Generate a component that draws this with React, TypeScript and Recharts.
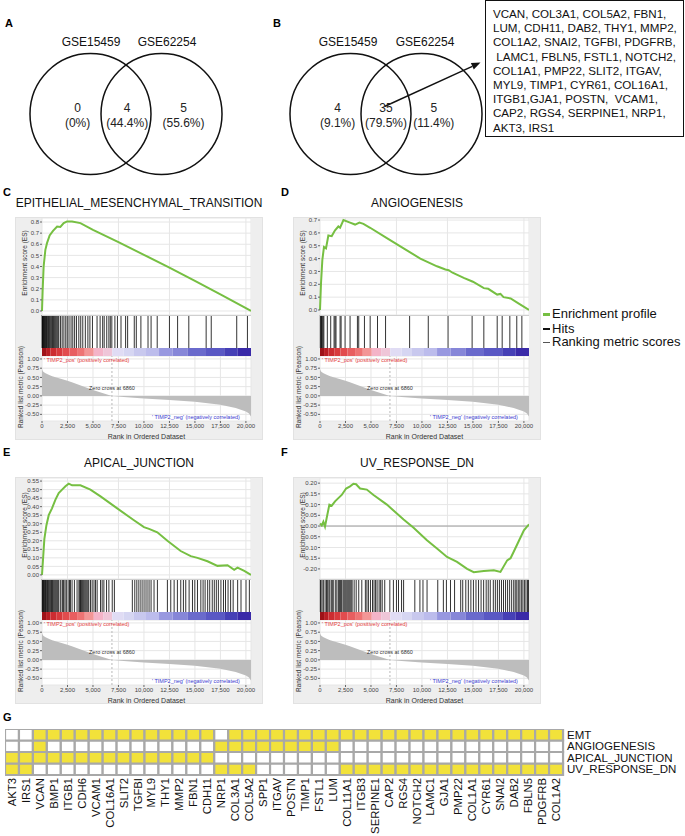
import React from "react";
import {
  LineChart,
  Line,
  AreaChart,
  Area,
  ComposedChart,
  BarChart,
  Bar,
  Cell,
  ScatterChart,
  Scatter,
  XAxis,
  YAxis,
  CartesianGrid,
  ReferenceLine,
  ReferenceArea,
  ReferenceDot,
} from "recharts";

const FONT = "'Liberation Sans', Arial, sans-serif";

// ---- Venn diagrams (A, B) ----
const vennCircleX = [-0.587, 0.587];
const vennSetNames = ["GSE15459", "GSE62254"];
const vennARegionX = [-0.8, 0.02, 0.95];
const vennACounts = [0, 4, 5];
const vennAPct = ["0%", "44.4%", "55.6%"];
const vennBRegionX = [-0.8, 0, 0.79];
const vennBCounts = [4, 35, 5];
const vennBPct = ["9.1%", "79.5%", "11.4%"];
const overlapGenes = [
  "VCAN, COL3A1, COL5A2, FBN1,",
  "LUM, CDH11, DAB2, THY1, MMP2,",
  "COL1A2, SNAI2, TGFBI, PDGFRB,",
  " LAMC1, FBLN5, FSTL1, NOTCH2,",
  "COL1A1, PMP22, SLIT2, ITGAV,",
  "MYL9, TIMP1, CYR61, COL16A1,",
  "ITGB1,GJA1, POSTN,  VCAM1,",
  "CAP2, RGS4, SERPINE1, NRP1,",
  "AKT3, IRS1",
];

// ---- GSEA panels (C-F) ----
const N_RANK = 20500;
const ZERO_CROSS = 6860;
const rankTicks = [0, 2500, 5000, 7500, 10000, 12500, 15000, 17500, 20000];
const metricTicks = [-0.5, -0.25, 0, 0.25, 0.5, 0.75, 1];

const metricRank = [0, 100, 300, 600, 1000, 1500, 2000, 2500, 3000, 4000, 5000, 6000, 6860, 8000, 10000, 12500, 15000, 17500, 19000, 20000, 20300, 20500];
const metricValue = [0.72, 0.66, 0.62, 0.58, 0.53, 0.49, 0.45, 0.41, 0.36, 0.26, 0.16, 0.07, 0, -0.03, -0.07, -0.11, -0.16, -0.24, -0.33, -0.42, -0.48, -0.56];

const colorBarEdges = [0, 400, 820, 1400, 2000, 2700, 3440, 4200, 5080, 6000, 6890, 8000, 9020, 10200, 11480, 12800, 14260, 16000, 17870, 19200, 20500];
const colorBarColors = ["#9e1218", "#b81e24", "#cc2c31", "#d83a3d", "#e24c4e", "#e85e60", "#ee7474", "#f39696", "#f4b4c8", "#efc6d8", "#e0dcf4", "#d6d6f2", "#c8c8ee", "#bcbcec", "#9898e0", "#8686d8", "#6a6acc", "#5a58c4", "#4640b6", "#3a2aa8"];

const emtEsRank = [0, 65, 160, 330, 490, 750, 1080, 1480, 1800, 2130, 2460, 2950, 3770, 5000, 7500, 10000, 12500, 15000, 17500, 20000, 20500];
const emtEsValue = [0, 0.19, 0.4, 0.55, 0.61, 0.68, 0.72, 0.76, 0.755, 0.79, 0.805, 0.805, 0.79, 0.73, 0.62, 0.505, 0.39, 0.27, 0.15, 0.025, 0];
const emtHits = [10, 40, 80, 120, 170, 220, 270, 330, 390, 450, 510, 580, 650, 720, 800, 880, 960, 1040, 1120, 1210, 1300, 1390, 1480, 1570, 1650, 1820, 1980, 2150, 2330, 2480, 2650, 2850, 3020, 3200, 3380, 3610, 3800, 4000, 4250, 4500, 4700, 4950, 5400, 5700, 5950, 6100, 6350, 6560, 6700, 6850, 7150, 7400, 7750, 8200, 8400, 9050, 9250, 9700, 10400, 10700, 11300, 12500, 13300, 14400, 16100, 16600, 19100, 20150];

const angioEsRank = [0, 100, 230, 390, 590, 820, 1150, 1475, 1800, 1970, 2300, 2950, 3440, 3870, 4260, 4920, 6560, 8200, 9840, 11475, 12300, 12620, 13000, 14100, 15000, 16070, 16500, 17380, 17700, 18000, 18700, 19500, 20500];
const angioEsValue = [0, 0.21, 0.39, 0.49, 0.48, 0.58, 0.575, 0.62, 0.65, 0.64, 0.7, 0.68, 0.665, 0.68, 0.67, 0.64, 0.56, 0.48, 0.4, 0.34, 0.315, 0.31, 0.29, 0.25, 0.22, 0.17, 0.165, 0.12, 0.125, 0.1, 0.09, 0.05, 0];
const angioHits = [30, 90, 150, 220, 300, 380, 720, 1050, 1380, 1480, 1570, 1970, 2070, 2460, 2950, 3670, 3800, 4360, 4920, 5640, 6430, 8790, 10620, 12560, 14920, 16070, 17380, 17870, 18620, 19300, 19800];

const apicalEsRank = [0, 100, 230, 430, 660, 980, 1310, 1640, 1970, 2300, 2620, 2950, 3770, 4750, 5740, 7380, 9020, 10000, 10500, 11310, 12300, 13600, 14590, 15250, 16230, 17210, 18200, 18850, 19180, 19840, 20500];
const apicalEsValue = [0, 0.09, 0.21, 0.29, 0.35, 0.39, 0.44, 0.48, 0.5, 0.52, 0.535, 0.525, 0.525, 0.5, 0.46, 0.39, 0.32, 0.28, 0.27, 0.25, 0.2, 0.14, 0.11, 0.1, 0.08, 0.053, 0.057, 0.03, 0.043, 0.024, 0];
const apicalHits = [20, 60, 110, 160, 220, 280, 340, 410, 480, 550, 620, 700, 780, 860, 940, 1020, 1100, 1190, 1280, 1370, 1460, 1550, 1640, 1800, 1970, 2050, 2130, 2260, 2390, 2560, 2700, 2790, 2950, 3180, 3440, 3620, 3700, 3780, 3850, 3930, 4010, 4100, 4200, 4300, 4400, 4500, 4590, 4760, 4920, 5100, 5250, 5410, 5740, 5900, 6070, 6330, 6560, 6890, 7100, 8860, 9100, 9300, 9500, 9700, 9900, 10100, 10300, 10500, 10700, 10990, 11320, 12300, 12630, 12960, 13280, 13610, 13870, 14100, 14430, 14760, 14990, 15250, 15580, 15800, 16000, 16250, 16450, 16700, 16900, 17100, 17300, 17550, 17800, 18000, 18250, 18500, 18750, 19190, 19520, 20010, 20340];

const uvEsRank = [0, 170, 330, 490, 650, 920, 1150, 1475, 1800, 2130, 2560, 2950, 3280, 3540, 3930, 4590, 5250, 6560, 8200, 9180, 10490, 11475, 12460, 13440, 14430, 15080, 16070, 17050, 17700, 18360, 18690, 19000, 19500, 20000, 20500];
const uvEsValue = [0.012, 0.003, 0.02, -0.003, 0.036, 0.1, 0.095, 0.115, 0.13, 0.145, 0.175, 0.185, 0.197, 0.195, 0.175, 0.17, 0.145, 0.1, 0.03, -0.008, -0.066, -0.105, -0.144, -0.167, -0.2, -0.215, -0.21, -0.206, -0.214, -0.16, -0.15, -0.12, -0.07, -0.02, 0.008];
const uvHits = [30, 80, 200, 330, 500, 650, 700, 800, 950, 1100, 1200, 1300, 1500, 1650, 1800, 1900, 2000, 2100, 2250, 2350, 2450, 2550, 2650, 2750, 2850, 2950, 3050, 3150, 3350, 3550, 3800, 4100, 4450, 4600, 4750, 4950, 5150, 5300, 5450, 5600, 5800, 5950, 6100, 6350, 6850, 7200, 7500, 7700, 8000, 8200, 9300, 9800, 10100, 10500, 11550, 12100, 12400, 12800, 13200, 13800, 14000, 14300, 14550, 14800, 15050, 15300, 15550, 15800, 16050, 16300, 16500, 16700, 17000, 17200, 17400, 17600, 17800, 18000, 18200, 18400, 18600, 18800, 19000, 19150, 19300, 19450, 19600, 19750, 19900, 20050, 20200, 20350, 20450];

// ---- G: gene x hallmark membership ----
const genes = ["AKT3", "IRS1", "VCAN", "BMP1", "ITGB1", "CDH6", "VCAM1", "COL16A1", "SLIT2", "TGFBI", "MYL9", "THY1", "MMP2", "FBN1", "CDH11", "NRP1", "COL3A1", "COL5A2", "SPP1", "ITGAV", "POSTN", "TIMP1", "FSTL1", "LUM", "COL11A1", "ITGB3", "SERPINE1", "CAP2", "RGS4", "NOTCH2", "LAMC1", "GJA1", "PMP22", "COL1A1", "CYR61", "SNAI2", "DAB2", "FBLN5", "PDGFRB", "COL1A2"];
// bottom row first
const hallmarks = ["UV_RESPONSE_DN", "APICAL_JUNCTION", "ANGIOGENESIS", "EMT"];
const inUv = [1, 1, 0, 0, 0, 0, 0, 0, 0, 0, 0, 0, 0, 0, 0, 1, 1, 1, 0, 0, 0, 0, 0, 0, 1, 1, 1, 1, 1, 1, 1, 1, 1, 1, 1, 1, 1, 1, 1, 1];
const inApical = [1, 1, 1, 1, 1, 1, 1, 1, 1, 1, 1, 1, 1, 1, 1, 0, 0, 0, 0, 0, 0, 0, 0, 0, 0, 0, 0, 0, 0, 0, 0, 0, 0, 0, 0, 0, 0, 0, 0, 0];
const inAngio = [0, 0, 1, 0, 0, 0, 0, 0, 0, 0, 0, 0, 0, 0, 0, 1, 1, 1, 1, 1, 1, 1, 1, 1, 0, 0, 0, 0, 0, 0, 0, 0, 0, 0, 0, 0, 0, 0, 0, 0];
const inEmt = [0, 0, 1, 1, 1, 1, 1, 1, 1, 1, 1, 1, 1, 1, 1, 0, 1, 1, 1, 1, 1, 1, 1, 1, 1, 1, 1, 1, 1, 1, 1, 1, 1, 1, 1, 1, 1, 1, 1, 1];
const membership = [inUv, inApical, inAngio, inEmt];
const rowKeys = ["uv", "apical", "angio", "emt"];

const YELLOW = "#f2e23a";
const GREEN = "#76bf42";

const abs = (left: number, top: number, extra: React.CSSProperties = {}): React.CSSProperties => ({
  position: "absolute",
  left,
  top,
  ...extra,
});

function Letter({ x, y, t }: { x: number; y: number; t: string }) {
  return (
    <div style={abs(x, y - 7, { fontSize: 11, fontWeight: "bold", fontFamily: FONT, lineHeight: "14px" })}>{t}</div>
  );
}

function CenterText({ x, y, size, children, color = "#111", rotate = false }: any) {
  return (
    <div
      style={abs(x, y, {
        transform: `translate(-50%, -50%)${rotate ? " rotate(-90deg)" : ""}`,
        whiteSpace: "pre",
        fontSize: size,
        fontFamily: FONT,
        color,
        lineHeight: 1,
      })}
    >
      {children}
    </div>
  );
}

function ArrowShape(p: any) {
  const { x1, y1, x2, y2 } = p;
  if ([x1, y1, x2, y2].some((v) => typeof v !== "number")) return <g />;
  const a = Math.atan2(y2 - y1, x2 - x1);
  const L = 9;
  const w = 3.5;
  const bx = x2 - L * Math.cos(a);
  const by = y2 - L * Math.sin(a);
  const px = -Math.sin(a) * w;
  const py = Math.cos(a) * w;
  return (
    <g>
      <line x1={x1} y1={y1} x2={bx} y2={by} stroke="#111" strokeWidth={1.4} />
      <polygon points={`${x2},${y2} ${bx + px},${by + py} ${bx - px},${by - py}`} fill="#111" />
    </g>
  );
}

const VENN_PX = 60.5;

function Venn({ left, top, regionX, counts, pcts, arrow }: any) {
  const W = 240;
  const H = 180;
  const xd = W / 2 / VENN_PX;
  const yd = H / 2 / VENN_PX;
  const data = regionX.map((x: number, i: number) => ({ x, y: 0, n: counts[i], p: pcts[i] }));
  return (
    <div style={abs(left, top)}>
      <ScatterChart width={W} height={H} margin={{ top: 0, right: 0, bottom: 0, left: 0 }}>
        <XAxis type="number" dataKey="x" domain={[-xd, xd]} hide />
        <YAxis type="number" dataKey="y" domain={[-yd, yd]} hide />
        {vennCircleX.map((cx) => (
          <ReferenceDot key={cx} x={cx} y={0} r={VENN_PX} fill="none" stroke="#111" strokeWidth={1.5} />
        ))}
        <Scatter
          data={data}
          isAnimationActive={false}
          shape={(p: any) => (
            <text x={p.cx} y={p.cy} textAnchor="middle" fontSize={12} fontFamily={FONT} fill="#222">
              <tspan x={p.cx} dy={-2}>
                {p.payload.n}
              </tspan>
              <tspan x={p.cx} dy={15}>
                ({p.payload.p})
              </tspan>
            </text>
          )}
        />
        {arrow && (
          <ReferenceLine
            segment={[
              { x: -0.025, y: 0.124 },
              { x: 1.562, y: 0.851 },
            ]}
            shape={ArrowShape}
            ifOverflow="visible"
          />
        )}
      </ScatterChart>
    </div>
  );
}

const fmtRank = (v: number) => v.toLocaleString("en-US");
const tickStyle = { fontSize: 6, fill: "#444", fontFamily: FONT };

function GseaPanel({ left, frameTop, esH, letter, title, esRank, esValue, esTicks, esDomain, esDigits, hits, zeroLine }: any) {
  const Y = 27;
  const PW = 209;
  const W = Y + PW;
  const plotLeft = left + Y;
  const esTop = frameTop + 1;
  const hitsTop = esTop + esH;
  const barTop = hitsTop + 33;
  const rankTop = barTop + 8;
  const rankH = 65;
  const frameH = rankTop + rankH + 19 - frameTop;
  const pxPerRank = PW / N_RANK;
  const esData = esRank.map((r: number, i: number) => ({ r, v: esValue[i] }));
  const metricData = metricRank.map((r, i) => ({ r, v: metricValue[i] }));
  const edgeData = [
    { r: 0, v: 0 },
    { r: N_RANK, v: 0 },
  ];
  const zeroMargin = { top: 0, right: 0, bottom: 0, left: 0 };

  return (
    <>
      <Letter x={left - 12} y={frameTop - 25} t={letter} />
      <CenterText x={left + 124} y={frameTop - 14} size={12}>
        {title}
      </CenterText>
      <div style={abs(left, frameTop, { width: 248, height: frameH, background: "#eeeeee", border: "1px solid #e2e2e2", boxSizing: "border-box" })} />
      <div style={abs(plotLeft, esTop, { width: PW, height: rankTop + rankH - esTop, background: "#fff" })} />

      <div style={abs(left, esTop)}>
        <LineChart width={W} height={esH} data={esData} margin={zeroMargin}>
          <CartesianGrid stroke="#e6e6e6" />
          <XAxis dataKey="r" type="number" domain={[0, N_RANK]} ticks={rankTicks} hide />
          <YAxis
            type="number"
            domain={esDomain}
            ticks={esTicks}
            width={Y}
            tick={tickStyle}
            tickSize={2}
            tickMargin={1}
            axisLine={false}
            interval={0}
            tickFormatter={(v: number) => v.toFixed(esDigits)}
            allowDataOverflow
          />
          {zeroLine && <ReferenceLine y={0} stroke="#9c9c9c" />}
          <Line dataKey="v" type="linear" stroke={GREEN} strokeWidth={2} dot={false} isAnimationActive={false} />
        </LineChart>
      </div>

      <div style={abs(left, hitsTop)}>
        <ComposedChart width={W} height={33} data={edgeData} margin={{ top: 0, right: 0, bottom: 0, left: Y }}>
          <XAxis dataKey="r" type="number" domain={[0, N_RANK]} hide />
          <YAxis type="number" domain={[0, 1]} hide />
          {hits.map((h: number) => (
            <ReferenceLine key={h} x={h} stroke="#000" strokeOpacity={0.8} strokeWidth={1} />
          ))}
          <Line dataKey="v" stroke="none" dot={false} isAnimationActive={false} />
        </ComposedChart>
      </div>
      <div style={abs(plotLeft, hitsTop, { width: PW, height: 1, background: "#cfcfcf" })} />

      <div style={abs(left, barTop)}>
        <ComposedChart width={W} height={8} data={edgeData} margin={{ top: 0, right: 0, bottom: 0, left: Y }}>
          <XAxis dataKey="r" type="number" domain={[0, N_RANK]} hide />
          <YAxis type="number" domain={[0, 1]} hide />
          {colorBarColors.map((c, i) => (
            <ReferenceArea key={c} x1={colorBarEdges[i]} x2={colorBarEdges[i + 1]} y1={0} y2={1} fill={c} fillOpacity={1} stroke="none" />
          ))}
          <Line dataKey="v" stroke="none" dot={false} isAnimationActive={false} />
        </ComposedChart>
      </div>

      <div style={abs(left, rankTop)}>
        <AreaChart width={W + 12} height={rankH + 14} data={metricData} margin={{ top: 0, right: 12, bottom: 0, left: 0 }}>
          <CartesianGrid stroke="#e6e6e6" />
          <XAxis
            dataKey="r"
            type="number"
            domain={[0, N_RANK]}
            ticks={rankTicks}
            interval={0}
            tickFormatter={fmtRank}
            height={14}
            tickSize={2}
            tickMargin={1}
            axisLine={false}
            tick={tickStyle}
          />
          <YAxis
            type="number"
            domain={[-0.68, 1.08]}
            ticks={metricTicks}
            interval={0}
            width={Y}
            tick={tickStyle}
            tickSize={2}
            tickMargin={1}
            axisLine={false}
            tickFormatter={(v: number) => v.toFixed(2)}
          />
          <ReferenceLine x={ZERO_CROSS} stroke="#b8b8b8" strokeDasharray="2 2" />
          <Area dataKey="v" type="linear" fill="#bdbdbd" fillOpacity={1} stroke="none" baseValue={0} isAnimationActive={false} />
        </AreaChart>
      </div>

      <div style={abs(plotLeft + 2, rankTop + 0.5, { fontSize: 5.5, fontFamily: FONT, color: "#e23b3b", whiteSpace: "pre", lineHeight: "6px" })}>
        {"' TIMP2_pos' (positively correlated)"}
      </div>
      <CenterText x={plotLeft + ZERO_CROSS * pxPerRank} y={rankTop + 33} size={5.5} color="#333">
        {"Zero cross at " + ZERO_CROSS}
      </CenterText>
      <div style={abs(plotLeft + 110, rankTop + 58, { fontSize: 5.5, fontFamily: FONT, color: "#3b3bd0", whiteSpace: "pre", lineHeight: "6px" })}>
        {"' TIMP2_neg' (negatively correlated)"}
      </div>

      <CenterText x={left + 10} y={esTop + esH / 2 - 4} size={6.5} rotate color="#333">
        Enrichment score (ES)
      </CenterText>
      <CenterText x={left + 6} y={rankTop + 31} size={6.5} rotate color="#333">
        Ranked list metric (Pearson)
      </CenterText>
      <CenterText x={plotLeft + PW / 2} y={rankTop + rankH + 15} size={7} color="#333">
        Rank in Ordered Dataset
      </CenterText>
    </>
  );
}

function GeneTick(props: any) {
  const { x, y, payload } = props;
  const ty = y + 3;
  return (
    <text x={x} y={ty} transform={`rotate(-90 ${x} ${ty})`} textAnchor="end" dominantBaseline="central" fontSize={11.3} fontFamily={FONT} fill="#111">
      {payload.value}
    </text>
  );
}

function RowTick(props: any) {
  const { x, y, payload } = props;
  return (
    <text x={x + 4} y={y} textAnchor="start" dominantBaseline="central" fontSize={11.5} fontFamily={FONT} fill="#111">
      {hallmarks[Math.floor(payload.value)]}
    </text>
  );
}

function Heatmap() {
  const data = genes.map((g) => ({ gene: g, uv: 1, apical: 1, angio: 1, emt: 1 }));
  return (
    <div style={abs(5, 729)}>
      <BarChart width={678} height={107} data={data} margin={{ top: 0, right: 0, bottom: 0, left: 0 }} barCategoryGap={0} barGap={0}>
        <XAxis
          dataKey="gene"
          type="category"
          interval={0}
          tick={<GeneTick />}
          height={61}
          axisLine={false}
          tickLine={false}
          tickSize={0}
          tickMargin={0}
        />
        <YAxis
          type="number"
          domain={[0, 4]}
          ticks={[0.5, 1.5, 2.5, 3.5]}
          interval={0}
          orientation="right"
          width={120}
          tick={<RowTick />}
          axisLine={false}
          tickLine={false}
          tickSize={0}
          tickMargin={0}
        />
        {rowKeys.map((k, ri) => (
          <Bar key={k} dataKey={k} stackId="h" isAnimationActive={false} stroke="#a8a8a8" strokeWidth={2.2}>
            {genes.map((g, gi) => (
              <Cell key={g} fill={membership[ri][gi] ? YELLOW : "#ffffff"} />
            ))}
          </Bar>
        ))}
      </BarChart>
    </div>
  );
}

export default function App() {
  return (
    <div style={abs(0, 0, { width: 685, height: 836, background: "#fff", overflow: "hidden", fontFamily: FONT })}>
      {/* A */}
      <Letter x={5} y={23} t="A" />
      <CenterText x={91} y={42} size={12}>{vennSetNames[0]}</CenterText>
      <CenterText x={167} y={42} size={12}>{vennSetNames[1]}</CenterText>
      <Venn left={5.5} top={23.5} regionX={vennARegionX} counts={vennACounts} pcts={vennAPct} />

      {/* B */}
      <Letter x={273} y={23} t="B" />
      <CenterText x={348} y={42} size={12}>{vennSetNames[0]}</CenterText>
      <CenterText x={425} y={42} size={12}>{vennSetNames[1]}</CenterText>
      <Venn left={265.5} top={23.5} regionX={vennBRegionX} counts={vennBCounts} pcts={vennBPct} arrow />
      <div
        style={abs(485, 0, {
          width: 199,
          height: 137,
          border: "1.5px solid #111",
          boxSizing: "border-box",
          padding: "6px 0 0 7px",
          fontSize: 11.6,
          lineHeight: "14.2px",
          fontFamily: FONT,
          color: "#111",
          whiteSpace: "pre",
        })}
      >
        {overlapGenes.join("\n")}
      </div>

      <GseaPanel left={15} frameTop={217} esH={97} letter="C" title="EPITHELIAL_MESENCHYMAL_TRANSITION" esRank={emtEsRank} esValue={emtEsValue} esTicks={[0, 0.1, 0.2, 0.3, 0.4, 0.5, 0.6, 0.7, 0.8]} esDomain={[-0.036, 0.836]} esDigits={1} hits={emtHits} />
      <GseaPanel left={293} frameTop={217} esH={97} letter="D" title="ANGIOGENESIS" esRank={angioEsRank} esValue={angioEsValue} esTicks={[0, 0.1, 0.2, 0.3, 0.4, 0.5, 0.6, 0.7]} esDomain={[-0.039, 0.716]} esDigits={1} hits={angioHits} />
      <GseaPanel left={15} frameTop={477} esH={101} letter="E" title="APICAL_JUNCTION" esRank={apicalEsRank} esValue={apicalEsValue} esTicks={[0, 0.05, 0.1, 0.15, 0.2, 0.25, 0.3, 0.35, 0.4, 0.45, 0.5, 0.55]} esDomain={[-0.024, 0.568]} esDigits={2} hits={apicalHits} />
      <GseaPanel left={293} frameTop={477} esH={101} letter="F" title="UV_RESPONSE_DN" esRank={uvEsRank} esValue={uvEsValue} esTicks={[-0.2, -0.15, -0.1, -0.05, 0, 0.05, 0.1, 0.15, 0.2]} esDomain={[-0.247, 0.224]} esDigits={2} hits={uvHits} zeroLine />

      {/* legend */}
      <div style={abs(543, 313, { width: 7, height: 3, background: GREEN })} />
      <div style={abs(552, 306, { fontSize: 13, fontFamily: FONT, lineHeight: "15px", color: "#111" })}>Enrichment profile</div>
      <div style={abs(543, 327.5, { width: 7, height: 2, background: "#111" })} />
      <div style={abs(552, 320.5, { fontSize: 13, fontFamily: FONT, lineHeight: "15px", color: "#111" })}>Hits</div>
      <div style={abs(543, 341.5, { width: 7, height: 1, background: "#555" })} />
      <div style={abs(552, 334, { fontSize: 13, fontFamily: FONT, lineHeight: "15px", color: "#111" })}>Ranking metric scores</div>

      {/* G */}
      <Letter x={3} y={717} t="G" />
      <Heatmap />
    </div>
  );
}
